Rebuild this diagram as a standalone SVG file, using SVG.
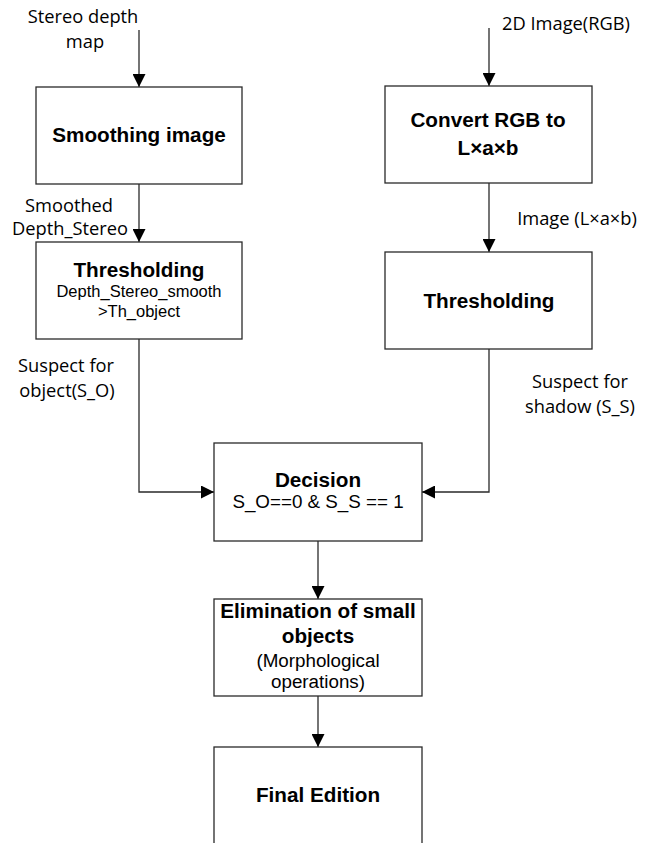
<svg xmlns="http://www.w3.org/2000/svg" width="650" height="843" viewBox="0 0 650 843">
  <style>
    .box { fill: #ffffff; stroke: #2a2a2a; stroke-width: 1.3; }
    .wire { fill: none; stroke: #2a2a2a; stroke-width: 1.3; }
    .title { font-family: "Liberation Sans", Arial, sans-serif; font-weight: bold; font-size: 20.7px; fill: #000; text-anchor: middle; }
    .sub { font-family: "Liberation Sans", Arial, sans-serif; font-size: 16.5px; fill: #000; text-anchor: middle; }
    .sub-lg { font-family: "Liberation Sans", Arial, sans-serif; font-size: 18.8px; fill: #000; text-anchor: middle; }
    .lbl { font-family: "Open Sans", "Noto Sans", sans-serif; font-size: 18.3px; fill: #000; text-anchor: middle; }
  </style>
  <defs>
    <marker id="arrow" markerUnits="userSpaceOnUse" markerWidth="13" markerHeight="13" viewBox="0 0 12 12" refX="12" refY="6" orient="auto">
      <path d="M0,0 L12,6 L0,12 z" fill="#000"/>
    </marker>
  </defs>

  <rect width="650" height="843" fill="#ffffff"/>

  <!-- connectors -->
  <g id="connectors">
    <line class="wire" x1="139" y1="30" x2="139" y2="87" marker-end="url(#arrow)"/>
    <line class="wire" x1="139" y1="184" x2="139" y2="242" marker-end="url(#arrow)"/>
    <polyline class="wire" points="139,339 139,492 214,492" marker-end="url(#arrow)"/>
    <line class="wire" x1="489" y1="28" x2="489" y2="86" marker-end="url(#arrow)"/>
    <line class="wire" x1="489" y1="183" x2="489" y2="252" marker-end="url(#arrow)"/>
    <polyline class="wire" points="489,349 489,492 422,492" marker-end="url(#arrow)"/>
    <line class="wire" x1="318" y1="541" x2="318" y2="599" marker-end="url(#arrow)"/>
    <line class="wire" x1="318" y1="696" x2="318" y2="747" marker-end="url(#arrow)"/>

    <text class="lbl" x="83" y="23">Stereo depth</text>
    <text class="lbl" x="85" y="48">map</text>
    <text class="lbl" x="69" y="212">Smoothed</text>
    <text class="lbl" x="70" y="235">Depth_Stereo</text>
    <text class="lbl" x="66" y="372">Suspect for</text>
    <text class="lbl" x="67" y="397">object(S_O)</text>
    <text class="lbl" x="566" y="30">2D Image(RGB)</text>
    <text class="lbl" x="577" y="225">Image (L×a×b)</text>
    <text class="lbl" x="580" y="388">Suspect for</text>
    <text class="lbl" x="580" y="413">shadow (S_S)</text>
  </g>

  <g id="smoothing">
    <rect class="box" x="36" y="87" width="206" height="97"/>
    <text class="title" x="139" y="142">Smoothing image</text>
  </g>

  <g id="convert">
    <rect class="box" x="385" y="86" width="207" height="97"/>
    <text class="title" x="488" y="127">Convert RGB to</text>
    <text class="title" x="488" y="155">L×a×b</text>
  </g>

  <g id="threshold-depth">
    <rect class="box" x="36" y="242" width="206" height="97"/>
    <text class="title" x="139" y="277">Thresholding</text>
    <text class="sub" x="139" y="297">Depth_Stereo_smooth</text>
    <text class="sub" x="139" y="317">&gt;Th_object</text>
  </g>

  <g id="threshold-color">
    <rect class="box" x="385" y="252" width="207" height="97"/>
    <text class="title" x="489" y="308">Thresholding</text>
  </g>

  <g id="decision">
    <rect class="box" x="214" y="443" width="208" height="98"/>
    <text class="title" x="318" y="487">Decision</text>
    <text class="sub-lg" x="318" y="508">S_O==0 &amp; S_S == 1</text>
  </g>

  <g id="elimination">
    <rect class="box" x="214" y="599" width="208" height="97"/>
    <text class="title" x="318" y="618">Elimination of small</text>
    <text class="title" x="318" y="643">objects</text>
    <text class="sub-lg" x="318" y="667">(Morphological</text>
    <text class="sub-lg" x="318" y="688">operations)</text>
  </g>

  <g id="final">
    <rect class="box" x="214" y="747" width="208" height="110"/>
    <text class="title" x="318" y="802">Final Edition</text>
  </g>
</svg>
